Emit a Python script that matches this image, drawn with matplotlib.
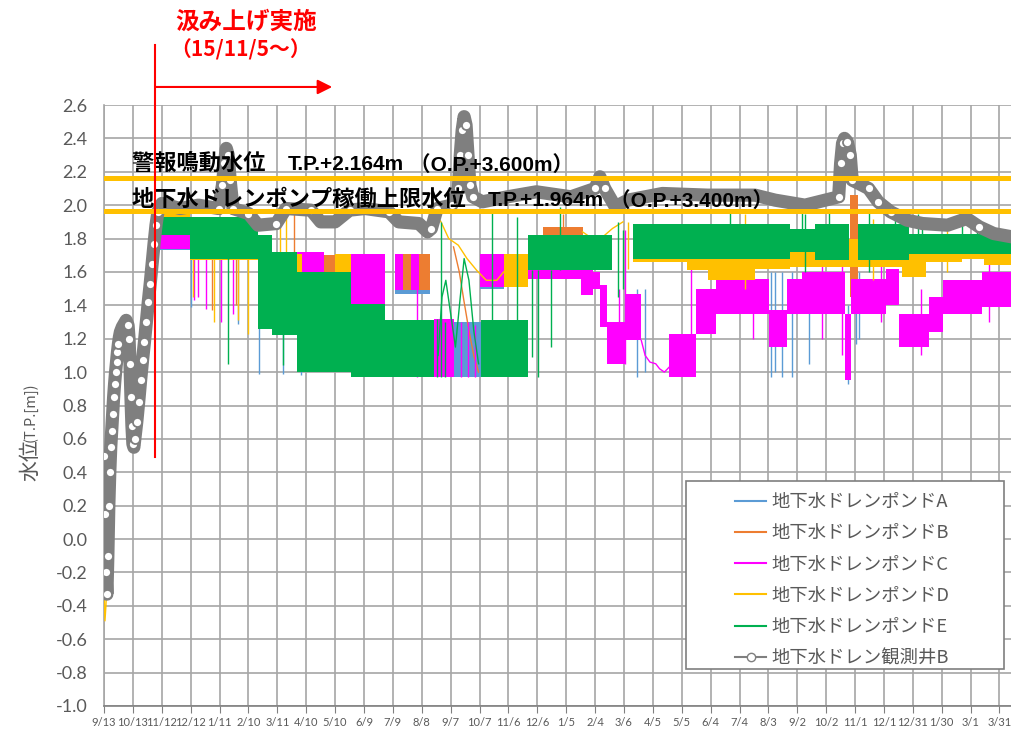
import numpy as np
import pandas as pd
import matplotlib
matplotlib.use('Agg')
import matplotlib.pyplot as plt
import matplotlib.dates as mdates
from matplotlib.lines import Line2D
from matplotlib.patches import Rectangle

plt.rcParams['font.family'] = ['Noto Sans CJK JP', 'DejaVu Sans']

# ---- observation well B (water level, T.P. m) ----
obs_dates = ['2015-09-13', '2015-09-14', '2015-09-15', '2015-09-16', '2015-09-17', '2015-09-18',
             '2015-09-19', '2015-09-20', '2015-09-21', '2015-09-22', '2015-09-23', '2015-09-24',
             '2015-09-25', '2015-09-26', '2015-09-27', '2015-09-28', '2015-09-29', '2015-09-30',
             '2015-10-02', '2015-10-04', '2015-10-06', '2015-10-08', '2015-10-09', '2015-10-10',
             '2015-10-11', '2015-10-12', '2015-10-13', '2015-10-14', '2015-10-15', '2015-10-17',
             '2015-10-19', '2015-10-21', '2015-10-23', '2015-10-25', '2015-10-27', '2015-10-29',
             '2015-10-31', '2015-11-02', '2015-11-04', '2015-11-06', '2015-11-08', '2015-11-12',
             '2015-12-01', '2015-12-20', '2016-01-10', '2016-01-14', '2016-01-16', '2016-01-18',
             '2016-01-20', '2016-01-22', '2016-01-25', '2016-02-10', '2016-02-20', '2016-03-10',
             '2016-03-20', '2016-04-15', '2016-04-25', '2016-05-10', '2016-05-25', '2016-06-10',
             '2016-07-05', '2016-07-15', '2016-08-05', '2016-08-14', '2016-08-18', '2016-08-24',
             '2016-09-08', '2016-09-15', '2016-09-17', '2016-09-19', '2016-09-21', '2016-09-23',
             '2016-09-25', '2016-09-27', '2016-09-30', '2016-10-10', '2016-11-05', '2016-12-05',
             '2017-01-10', '2017-02-04', '2017-02-09', '2017-02-14', '2017-02-25', '2017-03-10',
             '2017-04-15', '2017-06-01', '2017-07-20', '2017-08-10', '2017-09-10', '2017-10-15',
             '2017-10-17', '2017-10-19', '2017-10-21', '2017-10-24', '2017-10-27', '2017-10-29',
             '2017-11-05', '2017-11-15', '2017-11-25', '2017-12-08', '2017-12-25', '2018-01-10',
             '2018-02-05', '2018-02-15', '2018-02-25', '2018-03-10', '2018-03-25', '2018-04-13']
obs_vals = [0.50, 0.15, -0.20, -0.33, -0.10, 0.20,
            0.40, 0.55, 0.65, 0.75, 0.85, 0.93,
            1.00, 1.06, 1.12, 1.17, 1.21, 1.24,
            1.27, 1.29, 1.31, 1.28, 1.20, 1.05,
            0.85, 0.68, 0.57, 0.55, 0.60, 0.70,
            0.82, 0.95, 1.07, 1.18, 1.30, 1.42,
            1.53, 1.65, 1.77, 1.88, 1.96, 2.01,
            1.98, 2.00, 1.98, 2.12, 2.25, 2.34,
            2.30, 2.15, 1.98, 1.95, 1.88, 1.89,
            1.98, 1.97, 1.90, 1.90, 1.97, 1.98,
            1.96, 1.90, 1.89, 1.84, 1.86, 1.98,
            2.00, 2.10, 2.30, 2.45, 2.53, 2.48,
            2.30, 2.12, 2.05, 2.02, 2.05, 2.08,
            2.05, 2.10, 2.17, 2.10, 1.99, 2.03,
            2.07, 2.06, 2.06, 2.03, 2.00, 2.05,
            2.25, 2.37, 2.40, 2.38, 2.30, 2.15,
            2.13, 2.10, 2.02, 1.96, 1.91, 1.89,
            1.88, 1.90, 1.92, 1.87, 1.83, 1.81]

# ---- pond levels: ranges of the logged readings (start, end, low, high) ----
a_start = ['2015-11-09', '2016-07-11', '2016-09-10', '2016-10-07']
a_end = ['2015-12-11', '2016-08-17', '2016-10-09', '2016-11-01']
a_lo = [1.73, 1.47, 0.97, 1.50]
a_hi = [1.86, 1.55, 1.30, 1.60]
a_spk_dates = ['2015-12-12', '2016-01-30', '2016-02-21', '2016-03-17', '2016-04-05',
               '2017-03-20', '2017-03-28', '2017-08-06', '2017-08-10', '2017-08-17',
               '2017-08-28', '2017-09-14', '2017-10-25', '2017-11-02', '2017-11-05']
a_spk_lo = [1.39, 1.29, 0.99, 0.99, 0.98, 0.97, 1.00, 0.97, 1.00, 0.97, 0.97, 1.05, 0.93, 1.17,
            1.20]
a_spk_hi = [1.75, 1.70, 1.70, 1.30, 1.10, 1.50, 1.50, 1.60, 1.60, 1.60, 1.60, 1.60, 1.40, 1.60,
            1.60]

b_start = ['2015-11-09', '2016-04-28', '2016-07-11', '2016-12-12', '2017-10-27']
b_end = ['2015-12-11', '2016-05-27', '2016-08-17', '2017-01-22', '2017-11-04']
b_lo = [1.74, 1.59, 1.49, 1.70, 1.45]
b_hi = [1.88, 1.70, 1.71, 1.87, 2.06]
b_spk_dates = ['2016-01-03', '2016-01-28', '2016-03-28', '2016-06-10', '2016-06-20', '2017-01-02']
b_spk_lo = [1.37, 1.40, 1.60, 1.45, 1.45, 1.75]
b_spk_hi = [1.70, 1.75, 1.98, 1.71, 1.71, 1.95]
b_line_dates = ['2016-09-10', '2016-09-16', '2016-09-21', '2016-09-26', '2016-10-01', '2016-10-06']
b_line_vals = [1.75, 1.60, 1.42, 1.25, 1.10, 1.00]

c_start = ['2015-11-09', '2015-12-11', '2016-03-31', '2016-05-27', '2016-07-11', '2016-07-28',
           '2016-08-21', '2016-10-07', '2016-11-26', '2017-01-20', '2017-02-02', '2017-02-09',
           '2017-02-16', '2017-03-08', '2017-04-22', '2017-05-20', '2017-06-10', '2017-08-04',
           '2017-08-22', '2017-09-07', '2017-10-22', '2017-10-28', '2017-12-03', '2017-12-17',
           '2018-01-17', '2018-01-31', '2018-03-13']
c_end = ['2015-12-11', '2016-02-20', '2016-04-28', '2016-07-01', '2016-07-20', '2016-08-05',
         '2016-09-10', '2016-11-26', '2017-01-20', '2017-02-02', '2017-02-09', '2017-02-16',
         '2017-03-08', '2017-03-24', '2017-05-20', '2017-06-10', '2017-08-04', '2017-08-22',
         '2017-09-07', '2017-10-22', '2017-10-28', '2017-12-03', '2017-12-17', '2018-01-17',
         '2018-01-31', '2018-03-13', '2018-04-13']
c_lo = [1.74, 1.68, 1.58, 1.41, 1.49, 1.49, 0.97, 1.51, 1.56, 1.46, 1.50, 1.27, 1.05, 1.19,
        0.97, 1.23, 1.35, 1.15, 1.35, 1.35, 0.95, 1.35, 1.40, 1.15, 1.24, 1.35, 1.39]
c_hi = [1.86, 1.80, 1.72, 1.71, 1.71, 1.71, 1.32, 1.71, 1.62, 1.62, 1.60, 1.52, 1.30, 1.47,
        1.23, 1.50, 1.56, 1.37, 1.56, 1.60, 1.35, 1.56, 1.62, 1.35, 1.45, 1.55, 1.60]
c_spk_dates = ['2015-12-15', '2015-12-20', '2015-12-28', '2016-01-12', '2016-01-25', '2016-08-03',
               '2016-09-18', '2016-09-25', '2016-10-02', '2017-03-01', '2017-03-07', '2017-05-15',
               '2017-07-18', '2017-09-28', '2017-10-18', '2017-11-28', '2018-01-08', '2018-03-20']
c_spk_lo = [1.43, 1.45, 1.38, 1.30, 1.35, 0.97, 0.97, 0.97, 0.97, 1.10, 1.05, 1.20, 1.20, 1.20,
            1.10, 1.30, 1.10, 1.30]
c_spk_hi = [1.75, 1.75, 1.72, 1.72, 1.72, 1.50, 1.30, 1.30, 1.28, 1.50, 1.85, 1.70, 1.60, 1.70,
            1.65, 1.70, 1.50, 1.70]
c_line_dates = ['2017-03-24', '2017-03-28', '2017-04-02', '2017-04-08', '2017-04-12', '2017-04-17',
                '2017-04-22']
c_line_vals = [1.19, 1.10, 1.06, 1.05, 1.02, 1.00, 1.03]

d_start = ['2015-11-09', '2015-12-11', '2016-03-31', '2016-05-10', '2016-11-01', '2017-03-15',
           '2017-05-10', '2017-06-01', '2017-07-20', '2017-08-25', '2017-12-20', '2018-01-14',
           '2018-02-20', '2018-03-15']
d_end = ['2015-12-11', '2016-02-20', '2016-04-06', '2016-05-27', '2016-11-26', '2017-05-10',
         '2017-06-01', '2017-07-20', '2017-08-25', '2017-12-20', '2018-01-14', '2018-02-20',
         '2018-03-15', '2018-04-13']
d_lo = [1.84, 1.67, 1.59, 1.59, 1.51, 1.66, 1.61, 1.55, 1.62, 1.63, 1.57, 1.66, 1.68, 1.64]
d_hi = [1.95, 1.93, 1.71, 1.71, 1.71, 1.80, 1.75, 1.75, 1.75, 1.80, 1.75, 1.82, 1.80, 1.78]
d_spk_dates = ['2015-12-14', '2016-01-05', '2016-01-30', '2016-02-10', '2016-03-14', '2016-03-20',
               '2017-03-10', '2017-07-10', '2017-11-20', '2018-02-05']
d_spk_lo = [1.45, 1.30, 1.31, 1.23, 1.60, 1.60, 1.62, 1.50, 1.55, 1.60]
d_spk_hi = [1.70, 1.70, 1.70, 1.70, 1.98, 1.95, 1.90, 1.95, 1.92, 1.92]
d_line_dates = ['2015-09-13', '2015-09-14', '2015-09-15', '2015-09-17', '2015-09-20', '2015-09-29',
                '2015-10-07', '2015-10-13', '2015-10-30', '2015-11-09', '2015-11-09',
                '2016-08-20', '2016-08-28', '2016-09-05', '2016-09-15', '2016-09-24', '2016-10-04',
                '2016-10-14', '2016-10-25', '2016-11-01', '2016-11-01',
                '2017-01-22', '2017-02-01', '2017-02-12', '2017-02-22', '2017-03-05']
d_line_vals = [-0.30, -0.49, -0.40, -0.10, 0.50, 1.20,
               1.30, 0.52, 1.40, 1.85, np.nan,
               1.97, 1.90, 1.80, 1.76, 1.68, 1.61,
               1.55, 1.55, 1.60, np.nan,
               1.84, 1.80, 1.81, 1.86, 1.90]

e_start = ['2015-11-09', '2015-12-11', '2016-02-20', '2016-03-05', '2016-03-31', '2016-05-27',
           '2016-07-01', '2016-10-09', '2016-11-26', '2017-03-15', '2017-08-25', '2017-09-20',
           '2017-11-04', '2017-12-27']
e_end = ['2015-12-11', '2016-02-20', '2016-03-05', '2016-03-31', '2016-05-27', '2016-07-01',
         '2016-08-21', '2016-11-26', '2017-02-22', '2017-08-25', '2017-09-20', '2017-10-26',
         '2017-12-27', '2018-04-13']
e_lo = [1.82, 1.68, 1.26, 1.22, 1.00, 0.97, 0.97, 0.97, 1.61, 1.68, 1.72, 1.67, 1.67, 1.71]
e_hi = [1.93, 1.93, 1.82, 1.72, 1.60, 1.41, 1.31, 1.31, 1.82, 1.89, 1.86, 1.89, 1.89, 1.83]
e_spk_dates = ['2016-01-20', '2016-03-17', '2016-08-24', '2016-08-28', '2016-09-01', '2016-10-20',
               '2016-11-15', '2016-12-01', '2016-12-07', '2016-12-20', '2016-12-30', '2017-02-28',
               '2017-03-05', '2017-06-24', '2017-09-07', '2017-09-10', '2017-10-05', '2017-11-15',
               '2017-12-13', '2018-01-05', '2018-01-10', '2018-02-20', '2018-03-08']
e_spk_lo = [1.05, 1.04, 0.97, 0.97, 0.97, 1.31, 1.31, 1.09, 0.97, 1.15, 1.61, 1.45, 1.50, 1.89,
            1.86, 1.60, 1.89, 1.60, 1.89, 1.83, 1.83, 1.83, 1.83]
e_spk_hi = [1.70, 1.30, 1.32, 1.90, 1.30, 1.96, 1.93, 1.61, 1.61, 1.61, 1.99, 1.90, 1.85, 1.96,
            1.97, 1.95, 1.96, 1.96, 1.98, 1.95, 1.92, 1.92, 1.90]
e_line_dates = ['2016-08-25', '2016-08-29', '2016-09-02', '2016-09-07', '2016-09-12', '2016-09-17',
                '2016-09-21', '2016-09-26', '2016-10-01', '2016-10-06']
e_line_vals = [1.10, 1.45, 1.55, 1.35, 1.15, 1.45, 1.68, 1.55, 1.25, 1.05]

series_names = ['地下水ドレンポンドA', '地下水ドレンポンドB', '地下水ドレンポンドC',
                '地下水ドレンポンドD', '地下水ドレンポンドE', '地下水ドレン観測井B']

alarm_level = 2.164
pump_limit = 1.964
pump_start = '2015-11-05'

COL_A = '#5B9BD5'
COL_B = '#ED7D31'
COL_C = '#FF00FF'
COL_D = '#FFC000'
COL_E = '#00B050'
COL_OBS = '#7F7F7F'
TXT = '#595959'
LATIN = ['Liberation Sans', 'Noto Sans CJK JP', 'DejaVu Sans']


def dn(dates):
    return mdates.date2num(pd.to_datetime(dates))


def draw_pond(ax, start, end, lo, hi, spk_d, spk_lo, spk_hi, color, z,
              line_d=None, line_v=None):
    s, e = dn(start), dn(end)
    lo, hi = np.array(lo), np.array(hi)
    ax.bar(s, hi - lo, width=e - s, bottom=lo, align='edge', color=color,
           lw=0, zorder=z)
    ax.vlines(dn(spk_d), spk_lo, spk_hi, color=color, lw=1.0, zorder=z)
    if line_d is not None:
        ax.plot(dn(line_d), line_v, color=color, lw=1.0, zorder=z)


def level_note(ax, x, y, title, tp, op):
    # Japanese title, then the narrower latin figures chained after it
    t = ax.text(x, y, title + '　', fontsize=16, fontweight='bold', va='center', zorder=9)
    t = ax.annotate(f'T.P.+{tp:.3f}m', xy=(1, 0.0), xycoords=t, va='bottom',
                    family=LATIN, fontsize=15, fontweight='bold', zorder=9)
    ax.annotate(f' （O.P.+{op:.3f}m）', xy=(1, 0.0), xycoords=t, va='bottom',
                family=LATIN, fontsize=15, fontweight='bold', zorder=9)


fig = plt.figure(figsize=(10.12, 7.31), dpi=100)
ax = fig.add_axes([104 / 1012, 25 / 731, 908 / 1012, 601 / 731])

draw_pond(ax, a_start, a_end, a_lo, a_hi, a_spk_dates, a_spk_lo, a_spk_hi, COL_A, 2)
draw_pond(ax, b_start, b_end, b_lo, b_hi, b_spk_dates, b_spk_lo, b_spk_hi, COL_B, 3,
          b_line_dates, b_line_vals)
draw_pond(ax, c_start, c_end, c_lo, c_hi, c_spk_dates, c_spk_lo, c_spk_hi, COL_C, 4,
          c_line_dates, c_line_vals)
draw_pond(ax, d_start, d_end, d_lo, d_hi, d_spk_dates, d_spk_lo, d_spk_hi, COL_D, 5,
          d_line_dates, d_line_vals)
draw_pond(ax, e_start, e_end, e_lo, e_hi, e_spk_dates, e_spk_lo, e_spk_hi, COL_E, 6,
          e_line_dates, e_line_vals)

# observation well: thick marker trail, open circles where it moves fast
ox = dn(obs_dates)
oy = np.array(obs_vals)
ax.plot(ox, oy, color=COL_OBS, lw=9.5, solid_joinstyle='round',
        solid_capstyle='round', zorder=7)
steep = np.abs(np.gradient(oy)) > 0.04
ax.plot(ox[steep], oy[steep], ls='none', marker='o', ms=6.5, mfc='white',
        mec=COL_OBS, mew=1.3, zorder=7)

# warning / pump limit levels
ax.axhline(alarm_level, color=COL_D, lw=3.6, zorder=8)
ax.axhline(pump_limit, color=COL_D, lw=3.6, zorder=8)
t0 = dn(['2015-10-12'])[0]
level_note(ax, t0, 2.253, '警報鳴動水位', alarm_level, 3.600)
level_note(ax, t0, 2.037, '地下水ドレンポンプ稼働上限水位', pump_limit, 3.400)

# pumping start marker
ps = dn([pump_start])[0]
ax.plot([ps, ps], [0.49, 2.96], color='red', lw=1.5, clip_on=False, zorder=10)
ax.annotate('', xy=(dn(['2016-05-07'])[0], 2.708), xytext=(ps, 2.708),
            arrowprops=dict(arrowstyle='-|>', color='red', lw=1.5,
                            mutation_scale=22, shrinkA=0, shrinkB=0),
            annotation_clip=False, zorder=10)
fig.text(175 / 1012, 1 - 22 / 731, '汲み上げ実施', color='red', fontsize=17,
         fontweight='bold', va='center', ha='left')
fig.text(170 / 1012, 1 - 50 / 731, '（15/11/5～）', color='red', fontsize=15,
         fontweight='bold', va='center', ha='left')

# axes
ax.set_xlim(dn(['2015-09-13'])[0], dn(['2018-04-13'])[0])
ax.set_ylim(-1.0, 2.6)
ticks = pd.date_range('2015-09-13', periods=32, freq='30D')
ax.set_xticks(dn(ticks))
ax.set_xticklabels([f'{d.month}/{d.day}' for d in ticks], family='Lato',
                   fontsize=8, color=TXT)
yt = np.round(np.linspace(-1.0, 2.6, 19), 1) + 0.0
ax.set_yticks(yt)
ax.set_yticklabels([f'{v:.1f}' for v in yt], family='Lato', fontsize=13, color=TXT)
ax.tick_params(axis='x', length=5, color='#808080', pad=3)
ax.tick_params(axis='y', length=0, pad=12)
ax.grid(True, color='#A6A6A6', lw=1.2)
ax.set_axisbelow(True)
for side in ['top', 'right']:
    ax.spines[side].set_visible(False)
ax.spines['left'].set_color('#A6A6A6')
ax.spines['left'].set_linewidth(1.2)
ax.spines['bottom'].set_color('#808080')
ax.spines['bottom'].set_linewidth(1.2)

fig.text(30 / 1012, 1 - 460 / 731, '水位', rotation=90, fontsize=15, color=TXT,
         ha='center', va='center')
fig.text(30 / 1012, 1 - 412 / 731, '(T.P.[m])', rotation=90, fontsize=10.5, color=TXT,
         ha='center', va='center')

# legend
fig.add_artist(Rectangle((686 / 1012, 1 - 669 / 731), 318 / 1012, 188 / 731,
                         transform=fig.transFigure, facecolor='white',
                         edgecolor='#7F7F7F', lw=1.2, zorder=2))
handles = [Line2D([], [], color=c, lw=1.5) for c in [COL_A, COL_B, COL_C, COL_D, COL_E]]
handles.append(Line2D([], [], color=COL_OBS, lw=1.5, marker='o', ms=6, mfc='white',
                      mec=COL_OBS))
leg = fig.legend(handles, series_names, loc='upper left',
                 bbox_to_anchor=(726 / 1012, 1 - 484 / 731), bbox_transform=fig.transFigure,
                 frameon=False, fontsize=13.2, labelcolor=TXT, handlelength=1.7,
                 handletextpad=0.3, labelspacing=0.72, borderpad=0)
leg.set_zorder(3)

fig.savefig('out.png', dpi=100)
